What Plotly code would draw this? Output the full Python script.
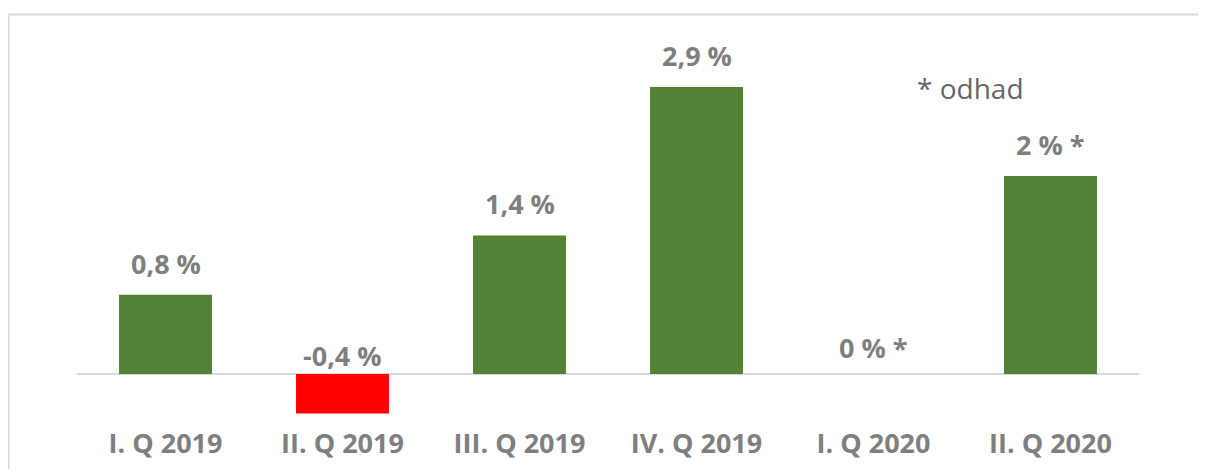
import plotly.graph_objects as go

categories = ["I. Q 2019", "II. Q 2019", "III. Q 2019", "IV. Q 2019", "I. Q 2020", "II. Q 2020"]
values = [0.8, -0.4, 1.4, 2.9, 0.0, 2.0]
labels = ["0,8 %", "-0,4 %", "1,4 %", "2,9 %", "0 % *", "2 % *"]
note_text = "* odhad"

GREEN = "#538135"
RED = "#ff0000"
GRAY = "#7f7f7f"
FONT = "Open Sans"

colors = [GREEN if v >= 0 else RED for v in values]

# page offset from default body margin
OX, OY = 8, 8
PW, PH = 1206, 469
W, H = PW - OX, PH - OY
# plot area in page pixels
PL, PR, PT, PB = 77, 1139, 20, 420
L, T = PL - OX, PT - OY
R, B = W - (PR - OX), H - (PB - OY)
pw, ph = PR - PL, PB - PT
y0_px = 374  # baseline page pixel
scale = 99.0
ymax = (y0_px - PT) / scale
ymin = -(PB - y0_px) / scale

fig = go.Figure()
fig.add_trace(go.Bar(
    x=categories, y=values, marker=dict(color=colors, line=dict(width=0)),
    width=0.525, hoverinfo="skip", showlegend=False,
))

annotations = []
for c, v, lab in zip(categories, values, labels):
    ys = 11 if v > 0 else (6 if v == 0 else -2)
    annotations.append(dict(
        x=c, y=max(v, 0), xref="x", yref="y", text=f"<b>{lab}</b>",
        showarrow=False, yanchor="bottom", yshift=ys,
        font=dict(family=FONT, size=27, color=GRAY),
    ))

def px_x(p):
    return (p - PL) / pw

def px_y(p):
    return (PB - p) / ph

annotations.append(dict(
    x=px_x(970), y=px_y(88), xref="paper", yref="paper",
    text=note_text, showarrow=False, xanchor="center", yanchor="middle",
    font=dict(family=FONT, size=28, color="#666666"),
))

shapes = [
    dict(type="line", xref="paper", yref="paper", x0=px_x(8.5), x1=px_x(8.5),
         y0=px_y(14.5), y1=px_y(480), line=dict(color="#d9d9d9", width=2)),
    dict(type="line", xref="paper", yref="paper", x0=px_x(8.5), x1=px_x(1210),
         y0=px_y(14.5), y1=px_y(14.5), line=dict(color="#d9d9d9", width=2)),
    dict(type="line", xref="paper", yref="y", x0=0, x1=1, y0=0, y1=0,
         line=dict(color="#d9d9d9", width=2), layer="below"),
]

fig.update_layout(
    width=W, height=H,
    margin=dict(l=L, r=R, t=T, b=B, pad=0, autoexpand=False),
    paper_bgcolor="white", plot_bgcolor="white",
    xaxis=dict(showgrid=False, zeroline=False, showline=False, ticks="",
               automargin=False,
               tickfont=dict(family=FONT, size=27, color=GRAY),
               tickprefix="<b>", ticksuffix="</b>", ticklabelstandoff=5),
    yaxis=dict(range=[ymin, ymax], visible=False, showgrid=False, zeroline=False,
               automargin=False),
    annotations=annotations, shapes=shapes,
)

fig.write_html("out.html")
